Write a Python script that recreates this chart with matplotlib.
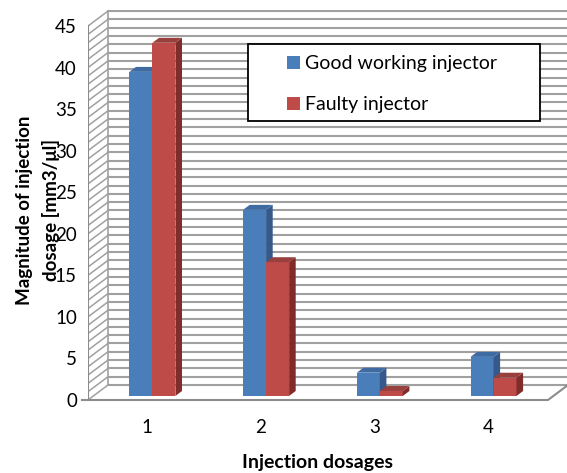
import numpy as np
import matplotlib
matplotlib.use('Agg')
import matplotlib.pyplot as plt
from matplotlib.patches import Polygon, Rectangle, Patch

# data
categories = [1, 2, 3, 4]
good_working = [39.0, 22.4, 2.8, 4.7]
faulty = [42.5, 16.1, 0.6, 2.2]
series_names = ['Good working injector', 'Faulty injector']
y_ticks = list(range(0, 46, 5))

plt.rcParams['font.family'] = ['Lato', 'DejaVu Sans']

W, H = 567, 473
PX_X = 113.7   # pixels per category step
PX_Y = 8.31    # pixels per value unit
DX, DY = 20 / PX_X, 15 / PX_Y          # wall depth in data units
X0 = 1 - 59 / PX_X                     # front left edge of the floor
X_FLOOR_R = 1 + 401 / PX_X             # front right edge of the floor
BAR_W = 23 / PX_X
OFF = 0.27                             # bar front position inside the depth
BD = 0.33                              # bar depth as share of wall depth

blue = ('#4a7ebb', '#34598a', '#3f6ba3')   # front, side, top
red = ('#be4b48', '#7f2c2a', '#98403d')

fig = plt.figure(figsize=(W / 100, H / 100), dpi=100)
ax = fig.add_axes([88 / W, (H - 400) / H, (W - 88) / W, 390 / H])
ax.set_xlim(X0, X0 + (W - 88) / PX_X)
ax.set_ylim(0, 390 / PX_Y)
for s in ax.spines.values():
    s.set_visible(False)

# walls: gridline every unit on back and side wall
grid_c = '#a0a0a0'
xmax = X0 + (W - 88) / PX_X + 1
for v in range(0, 46):
    ax.plot([X0 + DX, xmax], [v + DY, v + DY], color=grid_c, lw=1.5, zorder=1)
    ax.plot([X0, X0 + DX], [v, v + DY], color=grid_c, lw=1.1, zorder=1)
ax.plot([X0, X0], [0, 45], color='#8c8c8c', lw=1.5, zorder=1)
ax.plot([X0 + DX, X0 + DX], [DY, 45 + DY], color=grid_c, lw=1.2, zorder=1)
# floor outline
ax.plot([X0 - 6 / PX_X, X_FLOOR_R, X_FLOOR_R + DX], [0, 0, DY],
        color='#8c8c8c', lw=1.5, zorder=1, clip_on=False)

# 3d-looking bars
ox, oy = DX * OFF, DY * OFF
dx, dy = DX * BD, DY * BD
for k, (vals, cols) in enumerate([(good_working, blue), (faulty, red)]):
    xs = np.array(categories) + ox - BAR_W + k * BAR_W
    ax.bar(xs, vals, width=BAR_W, bottom=oy, align='edge',
           color=cols[0], zorder=3 + k)
    for xl, v in zip(xs, vals):
        xr = xl + BAR_W
        top = oy + v
        ax.add_patch(Polygon([(xr, oy), (xr + dx, oy + dy), (xr + dx, top + dy), (xr, top)],
                             closed=True, facecolor=cols[1], edgecolor='none', zorder=3 + k))
        ax.add_patch(Polygon([(xl, top), (xr, top), (xr + dx, top + dy), (xl + dx, top + dy)],
                             closed=True, facecolor=cols[2], edgecolor='none', zorder=3 + k))

ax.set_yticks(y_ticks)
ax.set_yticklabels([str(t) for t in y_ticks])
ax.set_xticks(categories)
ax.set_xticklabels([str(c) for c in categories])
ax.tick_params(axis='y', length=0, pad=8, labelsize=13.5)
ax.tick_params(axis='x', length=0, pad=14, labelsize=13.5)

ax.set_xlabel('Injection dosages', fontsize=14, fontweight='bold')
ax.xaxis.set_label_coords((318 - 88) / (W - 88), -(454 - 400) / 390)
# y label sits over the tick labels, as in the original
fig.text(38 / W, 1 - 210 / H, 'Magnitude of injection\ndosage [mm3/\u03bcl]',
         rotation=90, ha='center', va='center', fontsize=13.5, fontweight='bold',
         linespacing=1.6, multialignment='center')

# legend with its own frame
fig.patches.append(Rectangle((248 / W, 1 - 121 / H), 292 / W, 77 / H,
                             transform=fig.transFigure, facecolor='white',
                             edgecolor='black', lw=1.3, zorder=4))
handles = [Patch(facecolor=blue[0]), Patch(facecolor=red[0])]
fig.legend(handles, series_names, loc='upper left',
           bbox_to_anchor=(287 / W, 1 - 55 / H), bbox_transform=fig.transFigure,
           frameon=False, fontsize=14, handlelength=0.65, handleheight=0.65,
           handletextpad=0.3, labelspacing=1.25, borderpad=0, borderaxespad=0)

fig.savefig('out.png', dpi=100)
